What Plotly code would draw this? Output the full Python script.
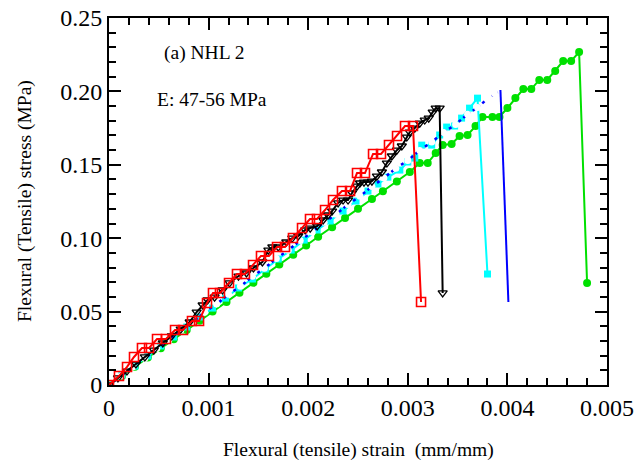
import plotly.graph_objects as go

# ---- data (strain mm/mm, stress MPa) ----
red_strain = [0, 0.000100, 0.000181, 0.000251, 0.000331, 0.000402, 0.000482, 0.000572, 0.000663, 0.000743,
              0.000833, 0.000904, 0.000984, 0.001044, 0.001114, 0.001205, 0.001285, 0.001365, 0.001446, 0.001526,
              0.001606, 0.001687, 0.001767, 0.001847, 0.001938, 0.002018, 0.002088, 0.002169, 0.002249, 0.002339,
              0.002420, 0.002490, 0.002570, 0.002651, 0.002731, 0.002811, 0.002892, 0.002972, 0.003052, 0.003133]
red_stress = [0, 0.0061, 0.0123, 0.0191, 0.0252, 0.0252, 0.0313, 0.0313, 0.0375, 0.0375,
              0.0436, 0.0436, 0.0559, 0.0627, 0.0627, 0.0695, 0.0756, 0.0756, 0.0817, 0.0879,
              0.0879, 0.0940, 0.0940, 0.1001, 0.1069, 0.1131, 0.1131, 0.1192, 0.1260, 0.1322,
              0.1322, 0.1444, 0.1444, 0.1574, 0.1574, 0.1635, 0.1696, 0.1764, 0.1764, 0.0565]

black_strain = [0, 0.00009, 0.00018, 0.00027, 0.00036, 0.00045, 0.00054, 0.00063, 0.00072, 0.00081,
                0.00088, 0.00094, 0.00099, 0.00106, 0.00114, 0.00121, 0.00130, 0.00138, 0.00145, 0.00154,
                0.00160, 0.00164, 0.00170, 0.00178, 0.00184, 0.00190, 0.00197, 0.00202, 0.00209, 0.00215,
                0.00220, 0.00224, 0.00230, 0.00235, 0.00240, 0.00244, 0.00249, 0.00252, 0.00256, 0.00260,
                0.00264, 0.00269, 0.00274, 0.00279, 0.00284, 0.00289, 0.00294, 0.00299, 0.00302, 0.00307,
                0.00312, 0.00317, 0.00321, 0.00325, 0.00328, 0.00332, 0.00335]
black_stress = [0, 0.0048, 0.0095, 0.0143, 0.0191, 0.0238, 0.0286, 0.0334, 0.0381, 0.0429,
                0.0497, 0.0545, 0.0579, 0.0599, 0.0647, 0.0695, 0.0742, 0.0763, 0.0797, 0.0838,
                0.0919, 0.0940, 0.0940, 0.0974, 0.1001, 0.1015, 0.1056, 0.1069, 0.1083, 0.1124,
                0.1158, 0.1185, 0.1240, 0.1260, 0.1260, 0.1308, 0.1355, 0.1376, 0.1382, 0.1382,
                0.1389, 0.1423, 0.1451, 0.1512, 0.1560, 0.1600, 0.1628, 0.1689, 0.1723, 0.1750,
                0.1784, 0.1805, 0.1818, 0.1859, 0.1886, 0.1886, 0.0627]

cyan_strain = [0, 0.00013, 0.00026, 0.00039, 0.00052, 0.00065, 0.00078, 0.00091, 0.00104, 0.00117,
               0.00130, 0.00144, 0.00157, 0.00170, 0.00183, 0.00196, 0.00209, 0.00222, 0.00235, 0.00248,
               0.00260, 0.00270, 0.00280, 0.00292, 0.00300, 0.00307, 0.00314, 0.00324, 0.00332, 0.00339,
               0.00347, 0.00354, 0.00362, 0.00370, 0.00380]
cyan_stress = [0, 0.0068, 0.0129, 0.0198, 0.0266, 0.0327, 0.0395, 0.0463, 0.0524, 0.0592,
               0.0661, 0.0722, 0.0790, 0.0858, 0.0919, 0.0987, 0.1056, 0.1117, 0.1185, 0.1253,
               0.1321, 0.1369, 0.1416, 0.1464, 0.1519, 0.1546, 0.1634, 0.1634, 0.1703, 0.1757,
               0.1764, 0.1818, 0.1886, 0.1954, 0.0756]

blue_strain = [0, 0.00012, 0.00024, 0.00036, 0.00048, 0.00060, 0.00072, 0.00084, 0.00096, 0.00108,
               0.00120, 0.00132, 0.00144, 0.00156, 0.00168, 0.00180, 0.00192, 0.00204, 0.00216, 0.00228,
               0.00240, 0.00252, 0.00264, 0.00276, 0.00288, 0.00300, 0.00312, 0.00324, 0.00336, 0.00348,
               0.00360, 0.00370, 0.00380, 0.00387, 0.00393, 0.00401]
blue_stress = [0, 0.0061, 0.0125, 0.0182, 0.0248, 0.0305, 0.0372, 0.0428, 0.0496, 0.0551,
               0.0618, 0.0672, 0.0740, 0.0795, 0.0862, 0.0918, 0.0985, 0.1042, 0.1108, 0.1163,
               0.1230, 0.1286, 0.1352, 0.1410, 0.1476, 0.1530, 0.1598, 0.1655, 0.1720, 0.1775,
               0.1845, 0.1890, 0.1950, 0.1985, 0.2009, 0.0565]

green_strain = [0, 0.00013, 0.00026, 0.00039, 0.00052, 0.00065, 0.00078, 0.00091, 0.00104, 0.00118,
                0.00131, 0.00145, 0.00158, 0.00171, 0.00185, 0.00198, 0.00210, 0.00224, 0.00237, 0.00250,
                0.00264, 0.00275, 0.00289, 0.00302, 0.00312, 0.00320, 0.00328, 0.00335, 0.00344, 0.00352,
                0.00360, 0.00368, 0.00375, 0.00385, 0.00392, 0.00400, 0.00408, 0.00416, 0.00424, 0.00432,
                0.00440, 0.00448, 0.00456, 0.00464, 0.00472, 0.00480]
green_stress = [0, 0.0062, 0.0125, 0.0187, 0.0250, 0.0312, 0.0374, 0.0437, 0.0500, 0.0566,
                0.0629, 0.0696, 0.0758, 0.0821, 0.0888, 0.0950, 0.1010, 0.1075, 0.1138, 0.1200,
                0.1267, 0.1320, 0.1387, 0.1451, 0.1512, 0.1512, 0.1580, 0.1635, 0.1642, 0.1696,
                0.1703, 0.1764, 0.1826, 0.1826, 0.1826, 0.1887, 0.1955, 0.2016, 0.2016, 0.2078,
                0.2078, 0.2139, 0.2207, 0.2207, 0.2268, 0.0695]

x_tickvals = [0, 0.001, 0.002, 0.003, 0.004, 0.005]
x_ticktext = ["0", "0.001", "0.002", "0.003", "0.004", "0.005"]
y_tickvals = [0, 0.05, 0.10, 0.15, 0.20, 0.25]
y_ticktext = ["0", "0.05", "0.10", "0.15", "0.20", "0.25"]

SERIF = "Liberation Serif, Times New Roman, serif"

fig = go.Figure()

fig.add_trace(go.Scatter(x=green_strain, y=green_stress, mode="lines+markers", name="Green",
                         line=dict(color="#00e000", width=2),
                         marker=dict(symbol="circle", size=8, color="#00e000")))
fig.add_trace(go.Scatter(x=cyan_strain, y=cyan_stress, mode="lines+markers", name="Cyan",
                         line=dict(color="#00ffff", width=2),
                         marker=dict(symbol="square", size=7, color="#00ffff")))
# blue: dotted rising branch with white circle markers, solid failure drop
fig.add_trace(go.Scatter(x=blue_strain[:-1], y=blue_stress[:-1], mode="lines+markers", name="Blue",
                         line=dict(color="#0000ff", width=2.5, dash="dot"),
                         marker=dict(symbol="circle", size=7, color="white", line=dict(width=0))))
fig.add_trace(go.Scatter(x=blue_strain[-2:], y=blue_stress[-2:], mode="lines", name="Blue drop",
                         line=dict(color="#0000ff", width=2)))
fig.add_trace(go.Scatter(x=black_strain, y=black_stress, mode="lines+markers", name="Black",
                         line=dict(color="black", width=2),
                         marker=dict(symbol="triangle-down-open", size=8, color="black",
                                     line=dict(width=1.3))))
fig.add_trace(go.Scatter(x=red_strain, y=red_stress, mode="lines+markers", name="Red",
                         line=dict(color="#ff0000", width=2),
                         marker=dict(symbol="square-open", size=9, color="#ff0000",
                                     line=dict(width=1.6))))

axis_common = dict(
    showgrid=False, zeroline=False, showline=True, linecolor="black", linewidth=2,
    mirror="allticks", ticks="inside", ticklen=12, tickwidth=1.5, tickcolor="black",
    tickfont=dict(family=SERIF, size=24, color="black"), automargin=False,
)

fig.update_xaxes(**axis_common, range=[0, 0.005], tickvals=x_tickvals, ticktext=x_ticktext,
                 minor=dict(ticks="inside", ticklen=7, tickwidth=1.5, tickcolor="black", dtick=0.0002,
                            showgrid=False))
fig.update_yaxes(**axis_common, range=[0, 0.25], tickvals=y_tickvals, ticktext=y_ticktext,
                 minor=dict(ticks="inside", ticklen=7, tickwidth=1.5, tickcolor="black", dtick=0.01,
                            showgrid=False))

ann_common = dict(xref="paper", yref="paper", showarrow=False, xanchor="center", yanchor="middle")

# axis titles
fig.add_annotation(x=0.502, y=-0.177, text="Flexural (tensile) strain  (mm/mm)",
                   font=dict(family=SERIF, size=19.5, color="black"), **ann_common)
fig.add_annotation(x=-0.169, y=0.501, text="Flexural (Tensile) stress (MPa)", textangle=-90,
                   font=dict(family=SERIF, size=19.5, color="black"), **ann_common)

# in-plot labels
fig.add_annotation(x=0.191, y=0.905, text="(a) NHL 2",
                   font=dict(family=SERIF, size=19.5, color="black"), **ann_common)
fig.add_annotation(x=0.207, y=0.777, text="E: 47-56 MPa",
                   font=dict(family=SERIF, size=19.5, color="black"), **ann_common)

fig.update_layout(
    width=638, height=468,
    margin=dict(l=109, r=31, t=18, b=83),
    paper_bgcolor="white", plot_bgcolor="white",
    showlegend=False,
)

# remove the default page margin so the 638x468 figure fills the window exactly
fig.write_html("out.html", config={"displayModeBar": False},
               post_script="document.body.style.margin='0';document.body.style.overflow='hidden';")
